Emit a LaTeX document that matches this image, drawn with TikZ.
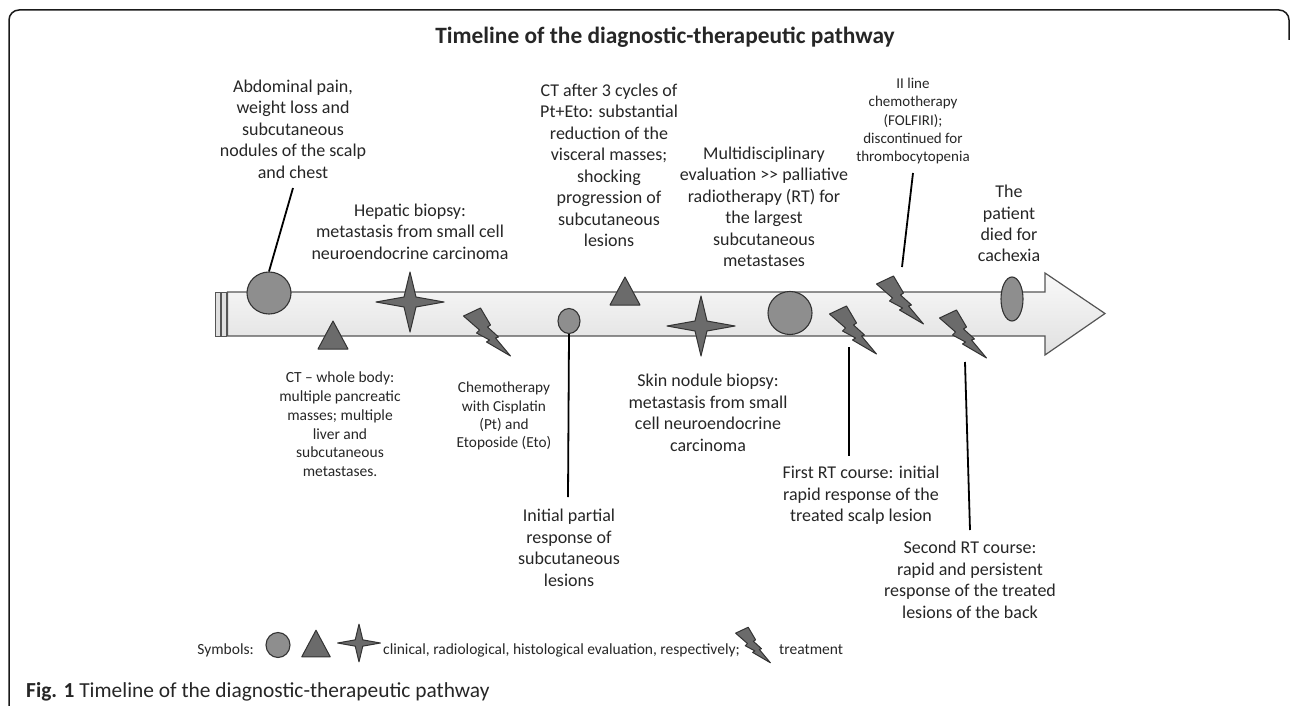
\documentclass[tikz,border=0pt]{standalone}
\usepackage{fontspec}
\setmainfont{Carlito}
\usetikzlibrary{shapes.geometric}
\definecolor{txt}{HTML}{262626}
\definecolor{symdark}{HTML}{6B6B6B}
\definecolor{symline}{HTML}{333333}
\definecolor{circfill}{HTML}{8E8E8E}
\definecolor{arrline}{HTML}{555555}
\definecolor{framec}{HTML}{1A1A1A}
\tikzset{
  maintext/.style={align=center, inner sep=0pt, anchor=north, text=txt, font=\fontsize{18}{21.5}\selectfont},
  smalltext/.style={align=center, inner sep=0pt, anchor=north, text=txt, font=\fontsize{15.3}{18.6}\selectfont},
  legtext/.style={inner sep=0pt, text=txt, font=\fontsize{15.5}{18}\selectfont},
  conn/.style={draw=black, line width=1.8pt},
  circsym/.style={ellipse, draw=symline, fill=circfill, line width=1.1pt, inner sep=0pt},
  darksym/.style={draw=symline, fill=symdark, line width=1pt, line join=round},
  bolt/.pic={\path[darksym] (-23.5,-16) -- (-6.5,-24) -- (3.5,-7) -- (0.5,-5) -- (11.5,5) -- (8.5,6) -- (23.5,24) -- (-0.5,10) -- (2.5,8) -- (-10.5,1) -- (-7.5,-2) -- cycle;},
  fourstar/.pic={\path[darksym] (34,0) -- (6,-5) -- (0,-30) -- (-6,-5) -- (-34,0) -- (-6,5) -- (0,30) -- (6,5) -- cycle;},
  tri/.pic={\path[darksym] (-15,14) -- (0,-14) -- (15,14) -- cycle;},
}
\begin{document}
\begin{tikzpicture}[x=1pt,y=-1pt]
\useasboundingbox (0,0) rectangle (1290,706);
% frame
\draw[framec, line width=1.5pt, rounded corners=10pt] (9,712) -- (9,10) -- (1289,10) -- (1289,40);
% title
\node[anchor=base, inner sep=0pt, text=txt, font=\bfseries\fontsize{23.4}{28}\selectfont] (title) at (665,44) {Timeline of the diagnostic-therapeutic pathway};
% timeline arrow
\path[draw=arrline, line width=1.2pt, top color=gray!5, bottom color=gray!24] (227.5,292) -- (1045,292) -- (1045,273) -- (1105,313.5) -- (1045,355) -- (1045,336) -- (227.5,336) -- cycle;
\path[draw=arrline, line width=1pt, fill=gray!25] (215,292) rectangle (220,336);
\path[draw=arrline, line width=1pt, fill=gray!25] (221.5,292) rectangle (226,336);
% symbols on the arrow
\node[circsym, minimum width=44pt, minimum height=42pt] (c1) at (269,293) {};
\pic at (333,335) {tri};
\pic at (410,302) {fourstar};
\pic at (487,332) {bolt};
\node[circsym, minimum width=22pt, minimum height=25pt] (sc) at (569,321) {};
\pic at (625,291) {tri};
\pic at (701,326) {fourstar};
\node[circsym, minimum width=44pt, minimum height=43pt] (c2) at (790,313) {};
\coordinate (boltA) at (853,330);
\pic at (boltA) {bolt};
\coordinate (boltB) at (900,300);
\pic at (boltB) {bolt};
\coordinate (boltC) at (963,334);
\pic at (boltC) {bolt};
\node[circsym, minimum width=22pt, minimum height=44pt] (ell) at (1012,299) {};
% texts above
\node[maintext] (abd) at (293,79.8) {Abdominal pain,\\weight loss and\\subcutaneous\\nodules of the scalp\\and chest};
\node[maintext] (hep) at (410,203.8) {Hepatic biopsy:\\metastasis from small cell\\neuroendocrine carcinoma};
\node[maintext] (ctafter) at (609,83.8) {CT after 3 cycles of\\Pt+Eto: substantial\\reduction of the\\visceral masses;\\shocking\\progression of\\subcutaneous\\lesions};
\node[maintext] (multi) at (764,146.8) {Multidisciplinary\\evaluation >\kern0pt> palliative\\radiotherapy (RT) for\\the largest\\subcutaneous\\metastases};
\node[smalltext, font=\fontsize{15}{18.3}\selectfont] (iiline) at (913,78) {II line\\chemotherapy\\(FOLFIRI);\\discontinued for\\thrombocytopenia};
\node[maintext] (patient) at (1009,184.8) {The\\patient\\died for\\cachexia};
% texts below
\node[smalltext, font=\fontsize{15.5}{18.8}\selectfont] (ctwhole) at (340,371.8) {CT – whole body:\\multiple pancreatic\\masses; multiple\\liver and\\subcutaneous\\metastases.};
\node[smalltext, font=\fontsize{15.3}{18.3}\selectfont] (chemo) at (504,381.9) {Chemotherapy\\with Cisplatin\\(Pt) and\\Etoposide (Eto)};
\node[maintext] (initial) at (569,508.8) {Initial partial\\response of\\subcutaneous\\lesions};
\node[maintext] (skin) at (708,373.8) {Skin nodule biopsy:\\metastasis from small\\cell neuroendocrine\\carcinoma};
\node[maintext] (firstrt) at (861,465.8) {First RT course: initial\\rapid response of the\\treated scalp lesion};
\node[maintext] (secondrt) at (970,540.8) {Second RT course:\\rapid and persistent\\response of the treated\\lesions of the back};
% connectors
\coordinate (abdend) at (293,188);
\draw[conn] (abdend) -- (c1.north);
\coordinate (initend) at (568,497);
\draw[conn] (sc.south) -- (initend);
\coordinate (iistart) at (913,173);
\coordinate (iiend) at (902,267);
\draw[conn] (iistart) -- (iiend);
\coordinate (astart) at (849,347);
\coordinate (aend) at (849,456);
\draw[conn] (astart) -- (aend);
\coordinate (cstart) at (965,362);
\coordinate (cend) at (970,530);
\draw[conn] (cstart) -- (cend);
% legend
\node[legtext, anchor=base east] (legsym) at (254,654) {Symbols:};
\node[circsym, minimum width=24pt, minimum height=25pt] (lc) at (278,645) {};
\pic[scale=0.95] at (316,643.5) {tri};
\pic[scale=0.63] at (359,643) {fourstar};
\node[legtext, anchor=base west] (legtxt) at (383,654) {clinical, radiological, histological evaluation, respectively;};
\pic[scale=0.74] at (753,645) {bolt};
\node[legtext, anchor=base west] (legtreat) at (779,654) {treatment};
% caption
\node[anchor=base west, inner sep=0pt, text=txt, font=\fontsize{21.4}{25}\selectfont] (caption) at (26,697) {\textbf{Fig. 1} Timeline of the diagnostic-therapeutic pathway};
\end{tikzpicture}
\end{document}
